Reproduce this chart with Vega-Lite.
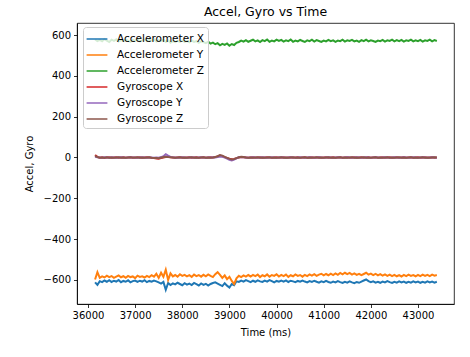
{
  "$schema": "https://vega.github.io/schema/vega-lite/v6.json",
  "width": 377,
  "height": 281,
  "autosize": "none",
  "padding": {"left": 77, "top": 23, "right": 16, "bottom": 53},
  "title": {"text": "Accel, Gyro vs Time", "fontSize": 12.5, "fontWeight": "normal", "font": "DejaVu Sans", "color": "#000", "offset": 5},
  "config": {
    "view": {"stroke": "#000", "strokeWidth": 0.8},
    "axis": {"labelFont": "DejaVu Sans", "titleFont": "DejaVu Sans", "labelFontSize": 10, "titleFontSize": 10, "titleFontWeight": "normal", "labelColor": "#000", "titleColor": "#000", "tickColor": "#000", "domainColor": "#000", "tickSize": 3.5, "tickWidth": 0.8, "domainWidth": 0.8, "grid": false, "labelPadding": 3}
  },
  "data": {"values": [
{"t":36150,"ax":-612,"ay":-598,"az":578,"gx":12,"gy":4,"gz":8},
{"t":36200,"ax":-624,"ay":-562,"az":570,"gx":3,"gy":1,"gz":2},
{"t":36250,"ax":-606,"ay":-590,"az":576,"gx":-1,"gy":0,"gz":-1},
{"t":36300,"ax":-611,"ay":-583,"az":569,"gx":1,"gy":-1,"gz":0},
{"t":36350,"ax":-603,"ay":-588,"az":580,"gx":-2,"gy":1,"gz":-1},
{"t":36400,"ax":-609,"ay":-579,"az":572,"gx":0,"gy":0,"gz":1},
{"t":36450,"ax":-601,"ay":-586,"az":566,"gx":1,"gy":-1,"gz":-1},
{"t":36500,"ax":-610,"ay":-581,"az":577,"gx":-1,"gy":1,"gz":0},
{"t":36550,"ax":-604,"ay":-590,"az":571,"gx":0,"gy":0,"gz":-1},
{"t":36600,"ax":-608,"ay":-584,"az":579,"gx":1,"gy":-1,"gz":0},
{"t":36650,"ax":-600,"ay":-578,"az":568,"gx":-1,"gy":0,"gz":1},
{"t":36700,"ax":-611,"ay":-587,"az":575,"gx":0,"gy":1,"gz":-1},
{"t":36750,"ax":-605,"ay":-582,"az":570,"gx":1,"gy":0,"gz":0},
{"t":36800,"ax":-609,"ay":-589,"az":578,"gx":-1,"gy":-1,"gz":-1},
{"t":36850,"ax":-602,"ay":-580,"az":573,"gx":0,"gy":0,"gz":0},
{"t":36900,"ax":-612,"ay":-586,"az":567,"gx":1,"gy":1,"gz":1},
{"t":36950,"ax":-606,"ay":-583,"az":576,"gx":0,"gy":0,"gz":-1},
{"t":37000,"ax":-603,"ay":-591,"az":571,"gx":-1,"gy":0,"gz":0},
{"t":37050,"ax":-610,"ay":-579,"az":580,"gx":0,"gy":-1,"gz":1},
{"t":37100,"ax":-604,"ay":-585,"az":569,"gx":1,"gy":0,"gz":-1},
{"t":37150,"ax":-608,"ay":-582,"az":574,"gx":-1,"gy":1,"gz":0},
{"t":37200,"ax":-601,"ay":-588,"az":578,"gx":0,"gy":0,"gz":-1},
{"t":37250,"ax":-611,"ay":-580,"az":570,"gx":1,"gy":-1,"gz":0},
{"t":37300,"ax":-605,"ay":-586,"az":576,"gx":0,"gy":0,"gz":1},
{"t":37350,"ax":-609,"ay":-577,"az":572,"gx":-2,"gy":0,"gz":-1},
{"t":37400,"ax":-603,"ay":-584,"az":579,"gx":-3,"gy":-1,"gz":-2},
{"t":37450,"ax":-607,"ay":-570,"az":568,"gx":-5,"gy":0,"gz":-3},
{"t":37500,"ax":-612,"ay":-590,"az":575,"gx":-6,"gy":-1,"gz":-4},
{"t":37550,"ax":-618,"ay":-565,"az":571,"gx":-3,"gy":2,"gz":-1},
{"t":37600,"ax":-610,"ay":-585,"az":577,"gx":0,"gy":6,"gz":2},
{"t":37650,"ax":-648,"ay":-550,"az":566,"gx":2,"gy":16,"gz":4},
{"t":37700,"ax":-615,"ay":-600,"az":574,"gx":3,"gy":9,"gz":2},
{"t":37750,"ax":-625,"ay":-568,"az":562,"gx":1,"gy":3,"gz":1},
{"t":37800,"ax":-617,"ay":-583,"az":570,"gx":0,"gy":1,"gz":0},
{"t":37850,"ax":-622,"ay":-576,"az":565,"gx":-1,"gy":0,"gz":-1},
{"t":37900,"ax":-614,"ay":-584,"az":572,"gx":0,"gy":-1,"gz":0},
{"t":37950,"ax":-620,"ay":-572,"az":567,"gx":1,"gy":0,"gz":1},
{"t":38000,"ax":-626,"ay":-580,"az":574,"gx":0,"gy":1,"gz":-1},
{"t":38050,"ax":-616,"ay":-575,"az":566,"gx":-1,"gy":0,"gz":0},
{"t":38100,"ax":-623,"ay":-583,"az":571,"gx":0,"gy":-1,"gz":-1},
{"t":38150,"ax":-618,"ay":-577,"az":564,"gx":1,"gy":0,"gz":0},
{"t":38200,"ax":-625,"ay":-585,"az":573,"gx":-1,"gy":1,"gz":1},
{"t":38250,"ax":-615,"ay":-574,"az":566,"gx":0,"gy":0,"gz":-1},
{"t":38300,"ax":-621,"ay":-581,"az":570,"gx":1,"gy":-1,"gz":0},
{"t":38350,"ax":-627,"ay":-576,"az":562,"gx":-1,"gy":0,"gz":-1},
{"t":38400,"ax":-617,"ay":-584,"az":569,"gx":0,"gy":1,"gz":0},
{"t":38450,"ax":-624,"ay":-575,"az":565,"gx":1,"gy":0,"gz":1},
{"t":38500,"ax":-619,"ay":-582,"az":560,"gx":-1,"gy":-1,"gz":-1},
{"t":38550,"ax":-628,"ay":-573,"az":567,"gx":0,"gy":0,"gz":0},
{"t":38600,"ax":-620,"ay":-580,"az":558,"gx":1,"gy":0,"gz":-1},
{"t":38650,"ax":-615,"ay":-586,"az":563,"gx":0,"gy":1,"gz":0},
{"t":38700,"ax":-612,"ay":-572,"az":555,"gx":2,"gy":0,"gz":2},
{"t":38750,"ax":-618,"ay":-562,"az":560,"gx":5,"gy":2,"gz":6},
{"t":38800,"ax":-624,"ay":-575,"az":550,"gx":9,"gy":5,"gz":12},
{"t":38850,"ax":-630,"ay":-590,"az":557,"gx":6,"gy":3,"gz":9},
{"t":38900,"ax":-616,"ay":-578,"az":552,"gx":2,"gy":0,"gz":3},
{"t":38950,"ax":-628,"ay":-596,"az":559,"gx":-2,"gy":-5,"gz":-2},
{"t":39000,"ax":-637,"ay":-585,"az":548,"gx":-6,"gy":-11,"gz":-7},
{"t":39050,"ax":-620,"ay":-605,"az":556,"gx":-9,"gy":-14,"gz":-10},
{"t":39100,"ax":-626,"ay":-620,"az":551,"gx":-7,"gy":-10,"gz":-8},
{"t":39150,"ax":-607,"ay":-592,"az":562,"gx":-3,"gy":-4,"gz":-3},
{"t":39200,"ax":-610,"ay":-580,"az":566,"gx":0,"gy":1,"gz":1},
{"t":39250,"ax":-603,"ay":-586,"az":573,"gx":2,"gy":2,"gz":3},
{"t":39300,"ax":-608,"ay":-578,"az":568,"gx":1,"gy":1,"gz":2},
{"t":39350,"ax":-601,"ay":-584,"az":575,"gx":0,"gy":0,"gz":0},
{"t":39400,"ax":-606,"ay":-576,"az":567,"gx":-1,"gy":-1,"gz":-1},
{"t":39450,"ax":-611,"ay":-583,"az":572,"gx":0,"gy":0,"gz":0},
{"t":39500,"ax":-604,"ay":-575,"az":577,"gx":1,"gy":1,"gz":-1},
{"t":39550,"ax":-609,"ay":-581,"az":569,"gx":-1,"gy":0,"gz":0},
{"t":39600,"ax":-602,"ay":-574,"az":574,"gx":0,"gy":-1,"gz":1},
{"t":39650,"ax":-607,"ay":-586,"az":566,"gx":1,"gy":0,"gz":-1},
{"t":39700,"ax":-610,"ay":-577,"az":575,"gx":-1,"gy":1,"gz":0},
{"t":39750,"ax":-603,"ay":-582,"az":570,"gx":0,"gy":0,"gz":-1},
{"t":39800,"ax":-608,"ay":-573,"az":578,"gx":1,"gy":-1,"gz":0},
{"t":39850,"ax":-601,"ay":-584,"az":567,"gx":0,"gy":0,"gz":1},
{"t":39900,"ax":-606,"ay":-576,"az":573,"gx":-1,"gy":1,"gz":-1},
{"t":39950,"ax":-612,"ay":-580,"az":569,"gx":0,"gy":0,"gz":0},
{"t":40000,"ax":-605,"ay":-572,"az":577,"gx":1,"gy":-1,"gz":-1},
{"t":40050,"ax":-609,"ay":-583,"az":571,"gx":-1,"gy":0,"gz":0},
{"t":40100,"ax":-603,"ay":-575,"az":576,"gx":0,"gy":1,"gz":1},
{"t":40150,"ax":-608,"ay":-581,"az":568,"gx":1,"gy":0,"gz":-1},
{"t":40200,"ax":-602,"ay":-574,"az":574,"gx":-1,"gy":-1,"gz":0},
{"t":40250,"ax":-610,"ay":-585,"az":570,"gx":0,"gy":0,"gz":-1},
{"t":40300,"ax":-604,"ay":-577,"az":578,"gx":1,"gy":1,"gz":0},
{"t":40350,"ax":-607,"ay":-582,"az":567,"gx":-1,"gy":0,"gz":1},
{"t":40400,"ax":-611,"ay":-573,"az":573,"gx":0,"gy":-1,"gz":-1},
{"t":40450,"ax":-605,"ay":-580,"az":569,"gx":1,"gy":0,"gz":0},
{"t":40500,"ax":-609,"ay":-576,"az":576,"gx":-1,"gy":1,"gz":-1},
{"t":40550,"ax":-603,"ay":-584,"az":571,"gx":0,"gy":0,"gz":0},
{"t":40600,"ax":-608,"ay":-575,"az":566,"gx":1,"gy":-1,"gz":1},
{"t":40650,"ax":-612,"ay":-581,"az":574,"gx":-1,"gy":0,"gz":-1},
{"t":40700,"ax":-606,"ay":-573,"az":570,"gx":0,"gy":1,"gz":0},
{"t":40750,"ax":-610,"ay":-579,"az":577,"gx":1,"gy":0,"gz":-1},
{"t":40800,"ax":-604,"ay":-572,"az":568,"gx":-1,"gy":-1,"gz":0},
{"t":40850,"ax":-609,"ay":-580,"az":575,"gx":0,"gy":0,"gz":1},
{"t":40900,"ax":-613,"ay":-574,"az":571,"gx":1,"gy":1,"gz":-1},
{"t":40950,"ax":-607,"ay":-570,"az":566,"gx":-1,"gy":0,"gz":0},
{"t":41000,"ax":-611,"ay":-578,"az":573,"gx":0,"gy":-1,"gz":-1},
{"t":41050,"ax":-605,"ay":-571,"az":569,"gx":1,"gy":0,"gz":0},
{"t":41100,"ax":-610,"ay":-577,"az":576,"gx":-1,"gy":1,"gz":1},
{"t":41150,"ax":-614,"ay":-569,"az":570,"gx":0,"gy":0,"gz":-1},
{"t":41200,"ax":-608,"ay":-576,"az":574,"gx":1,"gy":-1,"gz":0},
{"t":41250,"ax":-612,"ay":-568,"az":567,"gx":-1,"gy":0,"gz":-1},
{"t":41300,"ax":-606,"ay":-575,"az":573,"gx":0,"gy":1,"gz":0},
{"t":41350,"ax":-611,"ay":-566,"az":570,"gx":1,"gy":0,"gz":1},
{"t":41400,"ax":-615,"ay":-573,"az":577,"gx":-1,"gy":-1,"gz":-1},
{"t":41450,"ax":-609,"ay":-565,"az":568,"gx":0,"gy":0,"gz":0},
{"t":41500,"ax":-613,"ay":-572,"az":574,"gx":1,"gy":1,"gz":-1},
{"t":41550,"ax":-607,"ay":-566,"az":571,"gx":-1,"gy":0,"gz":0},
{"t":41600,"ax":-612,"ay":-574,"az":576,"gx":0,"gy":-1,"gz":1},
{"t":41650,"ax":-616,"ay":-568,"az":569,"gx":1,"gy":0,"gz":-1},
{"t":41700,"ax":-610,"ay":-575,"az":573,"gx":-1,"gy":1,"gz":0},
{"t":41750,"ax":-614,"ay":-570,"az":567,"gx":0,"gy":0,"gz":-1},
{"t":41800,"ax":-608,"ay":-577,"az":575,"gx":1,"gy":-1,"gz":0},
{"t":41850,"ax":-603,"ay":-571,"az":570,"gx":-1,"gy":0,"gz":1},
{"t":41900,"ax":-598,"ay":-565,"az":577,"gx":0,"gy":1,"gz":-1},
{"t":41950,"ax":-606,"ay":-574,"az":569,"gx":1,"gy":0,"gz":0},
{"t":42000,"ax":-611,"ay":-569,"az":574,"gx":-1,"gy":-1,"gz":-1},
{"t":42050,"ax":-607,"ay":-576,"az":571,"gx":0,"gy":0,"gz":0},
{"t":42100,"ax":-613,"ay":-570,"az":566,"gx":1,"gy":1,"gz":1},
{"t":42150,"ax":-609,"ay":-578,"az":573,"gx":-1,"gy":0,"gz":-1},
{"t":42200,"ax":-614,"ay":-572,"az":570,"gx":0,"gy":-1,"gz":0},
{"t":42250,"ax":-608,"ay":-579,"az":576,"gx":1,"gy":0,"gz":-1},
{"t":42300,"ax":-612,"ay":-573,"az":568,"gx":-1,"gy":1,"gz":0},
{"t":42350,"ax":-606,"ay":-580,"az":574,"gx":0,"gy":0,"gz":1},
{"t":42400,"ax":-611,"ay":-574,"az":571,"gx":1,"gy":-1,"gz":-1},
{"t":42450,"ax":-615,"ay":-581,"az":577,"gx":-1,"gy":0,"gz":0},
{"t":42500,"ax":-609,"ay":-575,"az":569,"gx":0,"gy":1,"gz":-1},
{"t":42550,"ax":-613,"ay":-582,"az":575,"gx":1,"gy":0,"gz":0},
{"t":42600,"ax":-607,"ay":-576,"az":570,"gx":-1,"gy":-1,"gz":1},
{"t":42650,"ax":-612,"ay":-583,"az":576,"gx":0,"gy":0,"gz":-1},
{"t":42700,"ax":-608,"ay":-575,"az":568,"gx":1,"gy":1,"gz":0},
{"t":42750,"ax":-614,"ay":-581,"az":574,"gx":-1,"gy":0,"gz":-1},
{"t":42800,"ax":-609,"ay":-574,"az":571,"gx":0,"gy":-1,"gz":0},
{"t":42850,"ax":-613,"ay":-580,"az":577,"gx":1,"gy":0,"gz":1},
{"t":42900,"ax":-607,"ay":-576,"az":569,"gx":-1,"gy":1,"gz":-1},
{"t":42950,"ax":-612,"ay":-582,"az":574,"gx":0,"gy":0,"gz":0},
{"t":43000,"ax":-608,"ay":-575,"az":570,"gx":1,"gy":-1,"gz":-1},
{"t":43050,"ax":-614,"ay":-581,"az":576,"gx":-1,"gy":0,"gz":0},
{"t":43100,"ax":-609,"ay":-574,"az":568,"gx":0,"gy":1,"gz":1},
{"t":43150,"ax":-613,"ay":-580,"az":574,"gx":1,"gy":0,"gz":-1},
{"t":43200,"ax":-607,"ay":-575,"az":571,"gx":-1,"gy":-1,"gz":0},
{"t":43250,"ax":-612,"ay":-581,"az":577,"gx":0,"gy":0,"gz":-1},
{"t":43300,"ax":-608,"ay":-574,"az":569,"gx":1,"gy":1,"gz":0},
{"t":43350,"ax":-613,"ay":-579,"az":575,"gx":-1,"gy":0,"gz":1},
{"t":43400,"ax":-609,"ay":-576,"az":571,"gx":0,"gy":-1,"gz":0}
  ]},
  "transform": [{"fold": ["ax", "ay", "az", "gx", "gy", "gz"], "as": ["series", "value"]}],
  "mark": {"type": "line", "strokeWidth": 2, "clip": true},
  "encoding": {
    "x": {"field": "t", "type": "quantitative", "scale": {"domain": [35767, 43764], "nice": false, "zero": false},
      "axis": {"title": "Time (ms)", "values": [36000, 37000, 38000, 39000, 40000, 41000, 42000, 43000], "format": "d", "titlePadding": 7}},
    "y": {"field": "value", "type": "quantitative", "scale": {"domain": [-718, 659], "nice": false, "zero": false},
      "axis": {"title": "Accel, Gyro", "values": [-600, -400, -200, 0, 200, 400, 600], "format": "d", "titlePadding": 9}},
    "color": {"field": "series", "type": "nominal",
      "scale": {"domain": ["ax", "ay", "az", "gx", "gy", "gz"], "range": ["#1f77b4", "#ff7f0e", "#2ca02c", "#d62728", "#9467bd", "#8c564b"]},
      "legend": {"title": null, "orient": "none", "legendX": 6, "legendY": 4, "symbolType": "M-1.3,0H1.3", "symbolSize": 256, "symbolStrokeWidth": 1.5, "symbolOffset": 2,
        "labelFont": "DejaVu Sans", "labelFontSize": 10.5, "labelColor": "#000", "labelOffset": 11, "rowPadding": 1,
        "fillColor": "rgba(255,255,255,0.8)", "strokeColor": "#cccccc", "cornerRadius": 3, "padding": 3,
        "labelExpr": "{'ax':'Accelerometer X','ay':'Accelerometer Y','az':'Accelerometer Z','gx':'Gyroscope X','gy':'Gyroscope Y','gz':'Gyroscope Z'}[datum.label]"}}
  }
}
